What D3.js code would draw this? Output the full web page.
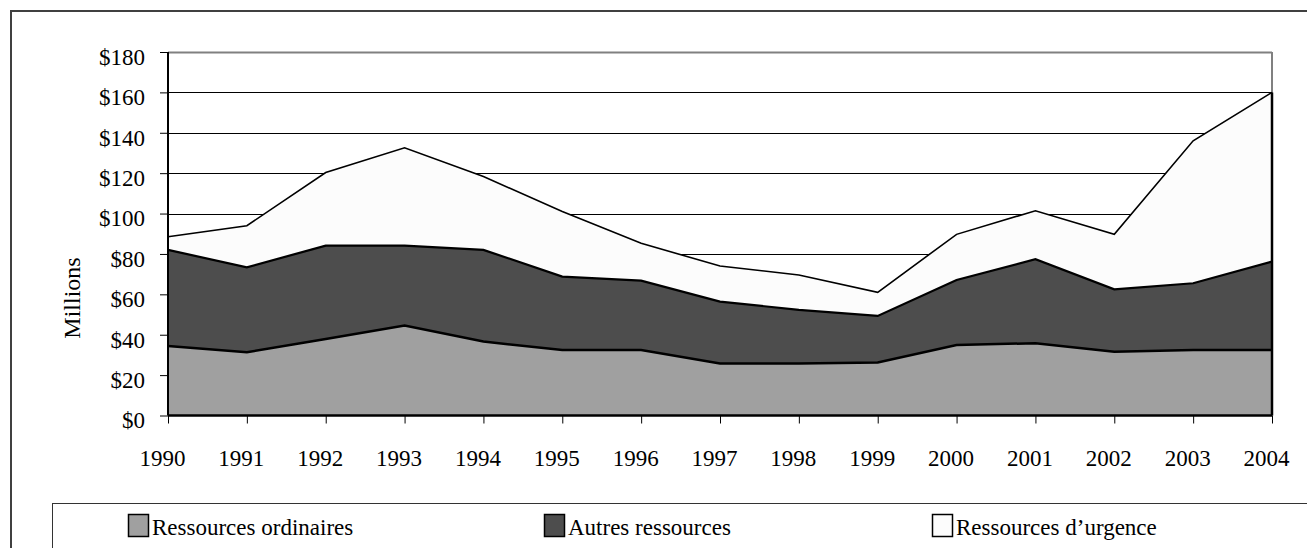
<!DOCTYPE html>
<html><head><meta charset="utf-8">
<script src="https://cdn.jsdelivr.net/npm/d3@7"></script>
<style>body{margin:0;background:#fff}svg{display:block}text{font-family:"Liberation Serif","Times New Roman",serif;fill:#000}</style>
</head><body><svg id="c" width="1307" height="548"></svg>
<script>
const years = [1990,1991,1992,1993,1994,1995,1996,1997,1998,1999,2000,2001,2002,2003,2004];
const ordinaires = [34.4,31.3,37.9,44.5,36.6,32.4,32.4,25.8,25.8,26.2,34.9,35.8,31.6,32.4,32.4];
const autres = [47.6,42.1,46.2,39.6,45.4,36.4,34.4,30.6,26.5,23.1,32.2,41.6,30.9,33.1,43.8];
const urgence = [6.5,20.6,36.2,48.5,36.3,32.2,18.5,17.6,17.3,11.7,22.6,24.0,27.2,70.5,83.8];
const yTicks = [0,20,40,60,80,100,120,140,160,180];
const seriesNames = ["Ressources ordinaires","Autres ressources","Ressources d\u2019urgence"];
const seriesColors = ["#a0a0a0","#4d4d4d","#fcfcfc"];

const svg = d3.select("#c");
const X0=168, X1=1272, Y0=415.5, Y1=52;
const x = d3.scaleLinear().domain([years[0], years[years.length-1]]).range([X0,X1]);
const y = d3.scaleLinear().domain([0,180]).range([Y0,Y1]);

// outer frame
svg.append("rect").attr("x",11).attr("y",11).attr("width",1400).attr("height",600)
  .attr("fill","none").attr("stroke","#404040").attr("stroke-width",2);

// gridlines
svg.append("g").selectAll("line").data(yTicks.filter(d=>d>0)).join("line")
  .attr("x1",X0).attr("x2",X1).attr("y1",d=>Math.round(y(d))+0.5).attr("y2",d=>Math.round(y(d))+0.5)
  .attr("stroke",d=>d===180?"#808080":"#000").attr("stroke-width",d=>d===180?2:1);
// right border gray
svg.append("line").attr("x1",X1).attr("x2",X1).attr("y1",Y1).attr("y2",Y0).attr("stroke","#808080").attr("stroke-width",2);

const rows = years.map((yr,i)=>({year:yr, a:ordinaires[i], b:autres[i], c:urgence[i]}));
const stack = d3.stack().keys(["a","b","c"]);
const layers = stack(rows);
const area = d3.area().x(d=>x(d.data.year)).y0(d=>y(d[0])).y1(d=>y(d[1]));
const line = d3.line().x(d=>x(d.data.year)).y(d=>y(d[1]));

svg.append("g").selectAll("path").data(layers).join("path")
  .attr("d",area).attr("fill",(d,i)=>seriesColors[i]).attr("stroke","none");
// right edge outline
svg.append("line").attr("x1",X1).attr("x2",X1).attr("y1",y(layers[2][14][1])).attr("y2",Y0).attr("stroke","#000").attr("stroke-width",2.5);
svg.append("g").selectAll("path").data(layers).join("path")
  .attr("d",line).attr("fill","none").attr("stroke","#000")
  .attr("stroke-width",(d,i)=>[2.5,2.2,1.6][i]).attr("stroke-linejoin","miter");

// axes
const yAxis = d3.axisLeft(y).tickValues(yTicks).tickSize(8).tickFormat(d=>"$"+d);
const gy = svg.append("g").attr("transform",`translate(${X0},0)`).call(yAxis);
gy.select(".domain").attr("stroke","#000").attr("stroke-width",2).attr("d",`M0,${Y1}V${Y0}`);
gy.selectAll(".tick line").attr("stroke","#000");
gy.selectAll(".tick text").attr("x",-23).attr("dy","0.32em").attr("transform","translate(0,5)")
  .style("font-size","23px").style("font-family","Liberation Serif").attr("fill","#000");

const xAxis = d3.axisBottom(x).tickValues(years).tickSize(8).tickFormat(d3.format("d"));
const gx = svg.append("g").attr("transform",`translate(0,${Y0})`).call(xAxis);
gx.select(".domain").attr("stroke","#000").attr("stroke-width",2.5).attr("d",`M${X0},0H${X1}`);
gx.selectAll(".tick line").attr("stroke","#000");
gx.selectAll(".tick text").attr("y",0).attr("dy",0).attr("transform","translate(-6,50)")
  .style("font-size","23px").style("font-family","Liberation Serif").attr("fill","#000");

svg.append("text").attr("transform","translate(80,298) rotate(-90)").attr("text-anchor","middle")
  .style("font-size","24px").text("Millions");

// legend
svg.append("rect").attr("x",52.5).attr("y",503.5).attr("width",1400).attr("height",200)
  .attr("fill","none").attr("stroke","#333").attr("stroke-width",1);
const legX = [128,544,932];
const lg = svg.append("g").selectAll("g").data(seriesNames).join("g")
  .attr("transform",(d,i)=>`translate(${legX[i]},0)`);
lg.append("rect").attr("x",0.5).attr("y",514.5).attr("width",20).attr("height",22)
  .attr("fill",(d,i)=>seriesColors[i]).attr("stroke","#000").attr("stroke-width",1.5);
lg.append("text").attr("x",24).attr("y",535).style("font-size","23px").text(d=>d);
</script></body></html>
